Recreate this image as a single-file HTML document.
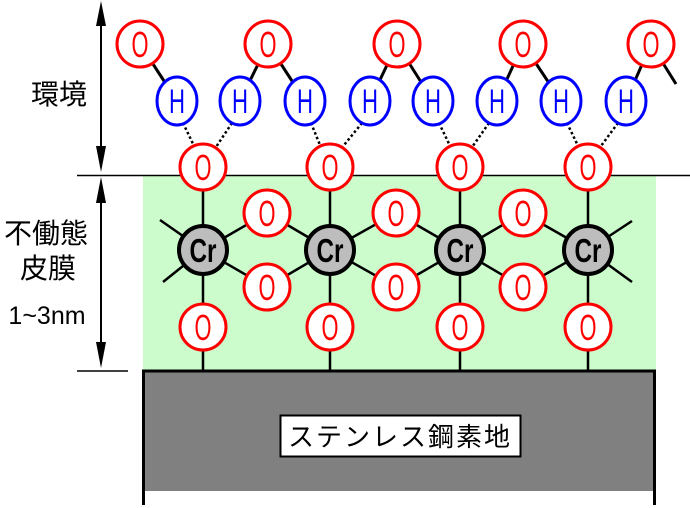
<!DOCTYPE html>
<html><head><meta charset="utf-8"><style>
html,body{margin:0;padding:0;background:#fff;}
svg{display:block;}
.o{fill:#fff;stroke:#f00;stroke-width:3;}
.h{fill:#fff;stroke:#00f;stroke-width:3;}
.cr{fill:#bdbdbd;stroke:#000;stroke-width:4;}
.to{fill:#f00;font-family:"Liberation Sans",sans-serif;font-size:36px;text-anchor:middle;}
.th{fill:#00f;font-family:"Liberation Sans",sans-serif;font-size:34px;text-anchor:middle;}
.tc{fill:#000;font-family:"Liberation Sans",sans-serif;font-size:33px;text-anchor:middle;}
.j{font-family:"Liberation Sans","Noto Sans CJK JP",sans-serif;fill:#000;}
</style></head><body>
<svg width="690" height="508" viewBox="0 0 690 508" xmlns="http://www.w3.org/2000/svg">
<rect x="143" y="175" width="513" height="195" fill="#ccfccc"/>
<rect x="143" y="370" width="512" height="121" fill="#808080"/>
<path d="M143.5 505 V371 H654.5 V505" fill="none" stroke="#000" stroke-width="3"/>
<rect x="280.5" y="415.5" width="240" height="41" fill="#fff" stroke="#000" stroke-width="2"/>
<text x="400" y="446" class="j" font-size="26" text-anchor="middle" letter-spacing="2">ステンレス鋼素地</text>
<line x1="77" y1="175.5" x2="690" y2="175.5" stroke="#000" stroke-width="1.5"/>
<line x1="77" y1="371" x2="128" y2="371" stroke="#000" stroke-width="1.5"/>
<g stroke="#000" stroke-width="2"><line x1="101" y1="10" x2="101" y2="165"/><line x1="101" y1="185" x2="101" y2="362"/></g>
<g fill="#000"><path d="M101 1 L96 26 L106 26Z"/><path d="M101 172 L96 146 L106 146Z"/><path d="M101 177 L96 203 L106 203Z"/><path d="M101 368 L96 342 L106 342Z"/></g>
<text x="59" y="104" class="j" font-size="28" text-anchor="middle">環境</text>
<text x="46" y="243" class="j" font-size="28" text-anchor="middle">不働態</text>
<text x="48" y="278" class="j" font-size="28" text-anchor="middle">皮膜</text>
<text x="47" y="324" class="j" font-size="25" text-anchor="middle">1~3nm</text>
<g stroke="#000" stroke-width="3">
<line x1="140" y1="44" x2="177" y2="101"/><line x1="268" y1="44" x2="240" y2="101"/><line x1="268" y1="44" x2="305" y2="101"/>
<line x1="397" y1="44" x2="370" y2="101"/><line x1="397" y1="44" x2="433" y2="101"/><line x1="523" y1="44" x2="497" y2="101"/>
<line x1="523" y1="44" x2="561" y2="101"/><line x1="651" y1="44" x2="626" y2="101"/><line x1="651" y1="44" x2="676" y2="84"/>
</g>
<g stroke="#000" stroke-width="2.5" stroke-dasharray="2.5 2.5">
<line x1="183" y1="123" x2="196" y2="150"/><line x1="232" y1="123" x2="214" y2="150"/>
<line x1="311" y1="123" x2="322" y2="150"/><line x1="362" y1="123" x2="340" y2="150"/>
<line x1="439" y1="123" x2="452" y2="150"/><line x1="489" y1="123" x2="470" y2="150"/>
<line x1="567" y1="123" x2="580" y2="150"/><line x1="618" y1="123" x2="598" y2="150"/>
</g>
<g stroke="#000" stroke-width="2.5">
<line x1="203" y1="167" x2="203" y2="370"/><line x1="330" y1="167" x2="330" y2="370"/><line x1="460" y1="167" x2="460" y2="370"/><line x1="588" y1="167" x2="588" y2="370"/>
<line x1="160" y1="220" x2="203" y2="250"/><line x1="163" y1="282" x2="203" y2="250"/>
<line x1="632" y1="221" x2="588" y2="250"/><line x1="632" y1="282" x2="588" y2="250"/>
<polyline fill="none" points="203,250 267,213 330,250 396,213 460,250 523,213 588,250"/>
<polyline fill="none" points="203,250 267,287 330,250 396,287 460,250 523,287 588,250"/>
</g>
<g>
<circle class="o" cx="140" cy="44" r="23"/><text class="to" x="140" y="57" textLength="17" lengthAdjust="spacingAndGlyphs">O</text>
<circle class="o" cx="268" cy="44" r="23"/><text class="to" x="268" y="57" textLength="17" lengthAdjust="spacingAndGlyphs">O</text>
<circle class="o" cx="397" cy="44" r="23"/><text class="to" x="397" y="57" textLength="17" lengthAdjust="spacingAndGlyphs">O</text>
<circle class="o" cx="523" cy="44" r="23"/><text class="to" x="523" y="57" textLength="17" lengthAdjust="spacingAndGlyphs">O</text>
<circle class="o" cx="651" cy="44" r="23"/><text class="to" x="651" y="57" textLength="17" lengthAdjust="spacingAndGlyphs">O</text>
<ellipse class="h" cx="177" cy="101" rx="20" ry="24"/><text class="th" x="177" y="113" textLength="16" lengthAdjust="spacingAndGlyphs">H</text>
<ellipse class="h" cx="240" cy="101" rx="20" ry="24"/><text class="th" x="240" y="113" textLength="16" lengthAdjust="spacingAndGlyphs">H</text>
<ellipse class="h" cx="305" cy="101" rx="20" ry="24"/><text class="th" x="305" y="113" textLength="16" lengthAdjust="spacingAndGlyphs">H</text>
<ellipse class="h" cx="370" cy="101" rx="20" ry="24"/><text class="th" x="370" y="113" textLength="16" lengthAdjust="spacingAndGlyphs">H</text>
<ellipse class="h" cx="433" cy="101" rx="20" ry="24"/><text class="th" x="433" y="113" textLength="16" lengthAdjust="spacingAndGlyphs">H</text>
<ellipse class="h" cx="497" cy="101" rx="20" ry="24"/><text class="th" x="497" y="113" textLength="16" lengthAdjust="spacingAndGlyphs">H</text>
<ellipse class="h" cx="561" cy="101" rx="20" ry="24"/><text class="th" x="561" y="113" textLength="16" lengthAdjust="spacingAndGlyphs">H</text>
<ellipse class="h" cx="626" cy="101" rx="20" ry="24"/><text class="th" x="626" y="113" textLength="16" lengthAdjust="spacingAndGlyphs">H</text>
<circle class="o" cx="203" cy="167" r="23"/><text class="to" x="203" y="180" textLength="17" lengthAdjust="spacingAndGlyphs">O</text>
<circle class="o" cx="330" cy="167" r="23"/><text class="to" x="330" y="180" textLength="17" lengthAdjust="spacingAndGlyphs">O</text>
<circle class="o" cx="460" cy="167" r="23"/><text class="to" x="460" y="180" textLength="17" lengthAdjust="spacingAndGlyphs">O</text>
<circle class="o" cx="588" cy="167" r="23"/><text class="to" x="588" y="180" textLength="17" lengthAdjust="spacingAndGlyphs">O</text>
<circle class="o" cx="267" cy="213" r="23"/><text class="to" x="267" y="226" textLength="17" lengthAdjust="spacingAndGlyphs">O</text>
<circle class="o" cx="396" cy="213" r="23"/><text class="to" x="396" y="226" textLength="17" lengthAdjust="spacingAndGlyphs">O</text>
<circle class="o" cx="523" cy="213" r="23"/><text class="to" x="523" y="226" textLength="17" lengthAdjust="spacingAndGlyphs">O</text>
<circle class="o" cx="267" cy="287" r="23"/><text class="to" x="267" y="300" textLength="17" lengthAdjust="spacingAndGlyphs">O</text>
<circle class="o" cx="396" cy="287" r="23"/><text class="to" x="396" y="300" textLength="17" lengthAdjust="spacingAndGlyphs">O</text>
<circle class="o" cx="523" cy="287" r="23"/><text class="to" x="523" y="300" textLength="17" lengthAdjust="spacingAndGlyphs">O</text>
<circle class="o" cx="203" cy="327" r="23"/><text class="to" x="203" y="340" textLength="17" lengthAdjust="spacingAndGlyphs">O</text>
<circle class="o" cx="330" cy="327" r="23"/><text class="to" x="330" y="340" textLength="17" lengthAdjust="spacingAndGlyphs">O</text>
<circle class="o" cx="460" cy="327" r="23"/><text class="to" x="460" y="340" textLength="17" lengthAdjust="spacingAndGlyphs">O</text>
<circle class="o" cx="588" cy="327" r="23"/><text class="to" x="588" y="340" textLength="17" lengthAdjust="spacingAndGlyphs">O</text>
<circle class="cr" cx="203" cy="250" r="24"/><text class="tc" x="203" y="262" textLength="27" lengthAdjust="spacingAndGlyphs" font-weight="bold">Cr</text>
<circle class="cr" cx="330" cy="250" r="24"/><text class="tc" x="330" y="262" textLength="27" lengthAdjust="spacingAndGlyphs" font-weight="bold">Cr</text>
<circle class="cr" cx="460" cy="250" r="24"/><text class="tc" x="460" y="262" textLength="27" lengthAdjust="spacingAndGlyphs" font-weight="bold">Cr</text>
<circle class="cr" cx="588" cy="250" r="24"/><text class="tc" x="588" y="262" textLength="27" lengthAdjust="spacingAndGlyphs" font-weight="bold">Cr</text>
</g>
</svg>
</body></html>
